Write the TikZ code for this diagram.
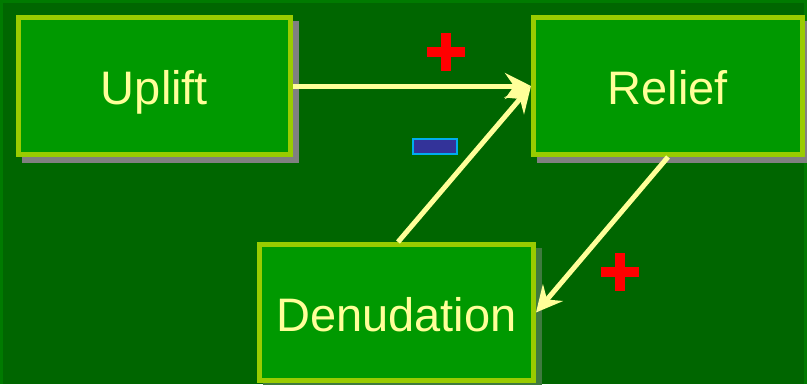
\documentclass[tikz,border=0pt]{standalone}
\usepackage{fontspec}
\setmainfont{Liberation Sans}
\usetikzlibrary{arrows.meta}
\definecolor{bgdark}{HTML}{006600}
\definecolor{bgedge}{HTML}{007A00}
\definecolor{boxfill}{HTML}{009900}
\definecolor{boxline}{HTML}{99CC00}
\definecolor{paleyellow}{HTML}{FFFF99}
\definecolor{shadowgray}{HTML}{808080}
\definecolor{faintshadow}{HTML}{3F7A3F}
\definecolor{minusfill}{HTML}{333399}
\tikzset{
  shadowcol/.store in=\boxshadow, shadowcol=shadowgray,
  procbox/.style={draw=boxline, line width=5pt, fill=boxfill, inner sep=0pt,
    text=paleyellow, font=\fontsize{47}{56}\selectfont,
    text height=37pt, text depth=0pt,
    preaction={draw=\boxshadow, fill=\boxshadow,
      transform canvas={xshift=6pt, yshift=-6pt}}},
  link/.style={draw=paleyellow, line width=5pt,
    -{Stealth[length=26pt,width=26pt,inset=9pt]}},
  plusbar/.style={fill=red, draw=none, inner sep=0pt},
  minusbox/.style={fill=minusfill, draw=cyan, line width=1.5pt, inner sep=0pt,
    minimum width=44pt, minimum height=15pt}
}
\begin{document}
\begin{tikzpicture}[x=1pt,y=-1pt]
  % backdrop
  \fill[bgedge] (0,0) rectangle (807,384);
  \fill[bgdark] (3,3) rectangle (804,384);
  \useasboundingbox (0,0) rectangle (807,384);

  % process boxes
  \node[procbox, minimum width=272pt, minimum height=137pt] (u) at (154.5,86) {Uplift};
  \node[procbox, minimum width=269pt, minimum height=137pt] (r) at (668,86) {Relief};
  \node[shadowcol=faintshadow, procbox, minimum width=274pt, minimum height=136pt] (d) at (396.5,312.5) {Denudation};

  % feedback links
  \draw[link] (u.east) -- (r.west);
  \draw[link] ([xshift=1.5pt]d.north) -- (r.west);
  \draw[link] (r.south) -- (d.east);

  % signs on the links
  \node[plusbar, minimum width=38pt, minimum height=10pt] (p1h) at (446,52) {};
  \node[plusbar, minimum width=10pt, minimum height=38pt] (p1v) at (446,52) {};
  \node[plusbar, minimum width=38pt, minimum height=10pt] (p2h) at (620,271.5) {};
  \node[plusbar, minimum width=10pt, minimum height=38pt] (p2v) at (620,271.5) {};
  \node[minusbox] (m) at (435,146.5) {};
\end{tikzpicture}
\end{document}
